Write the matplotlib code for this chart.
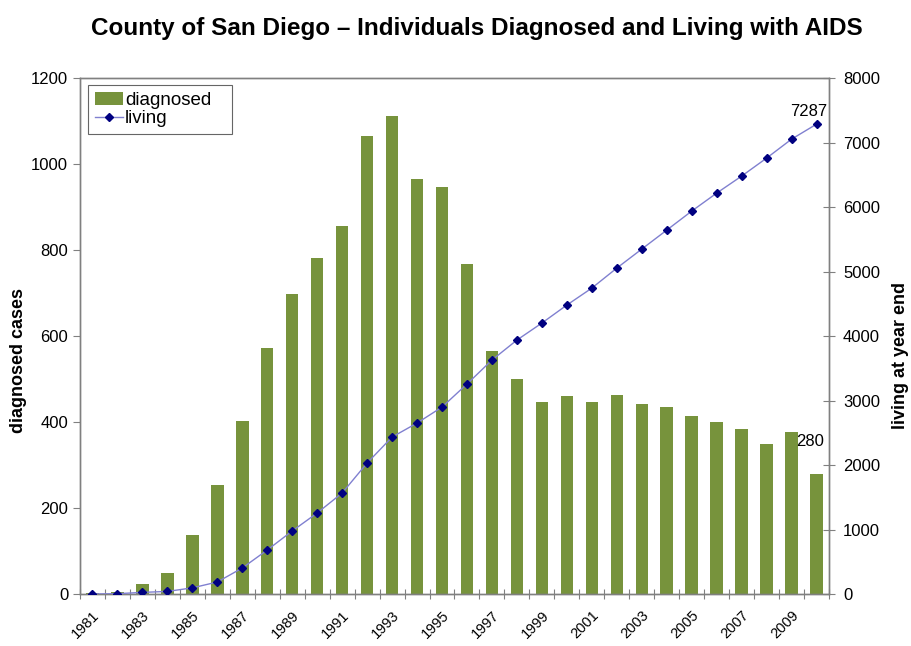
import matplotlib
matplotlib.use("Agg")
import matplotlib.pyplot as plt
import numpy as np

years = list(range(1981, 2011))
diagnosed = [2, 5, 23, 48, 137, 253, 402, 572, 697, 781, 856, 1065, 1111, 965, 946,
             767, 565, 500, 446, 460, 446, 463, 442, 435, 414, 400, 384, 349, 377, 280]
living = [0, 5, 25, 40, 95, 186, 403, 682, 977, 1256, 1566, 2031, 2434, 2651, 2899,
          3256, 3628, 3938, 4202, 4481, 4744, 5054, 5349, 5643, 5938, 6217, 6481, 6760, 7054, 7287]

plt.rcParams['font.family'] = ['Liberation Sans', 'DejaVu Sans']

fig = plt.figure(figsize=(9.12, 6.46), dpi=100)
ax = fig.add_axes([0.0877, 0.0805, 0.8213, 0.7985])
ax2 = ax.twinx()

x = np.arange(len(years))
bars = ax.bar(x, diagnosed, width=0.5, color='#77933C', label='diagnosed', zorder=2)
line, = ax2.plot(x, living, color='#8080D0', lw=1.0, marker='D', markersize=3.8,
                 markerfacecolor='#000080', markeredgecolor='#000080', label='living', zorder=3)

ax.set_xlim(-0.5, len(years) - 0.5)
ax.set_ylim(0, 1200)
ax2.set_ylim(0, 8000)
ax.set_yticks(range(0, 1201, 200))
ax2.set_yticks(range(0, 8001, 1000))

# category boundary ticks
ax.set_xticks(np.arange(-0.5, len(years), 1.0))
ax.set_xticklabels([])
ax.set_xticks(x[::2], minor=True)
ax.set_xticklabels([str(y) for y in years[::2]], minor=True, rotation=45,
                   ha='right', va='top', rotation_mode='anchor', fontsize=10.5)
ax.tick_params(axis='x', which='major', direction='inout', length=7, color='#808080')
ax.tick_params(axis='x', which='minor', length=0, pad=10)
ax.tick_params(axis='y', direction='out', length=5, color='#808080', labelsize=12)
ax2.tick_params(axis='y', direction='inout', length=8, color='#808080', labelsize=12, pad=6)

for a in (ax, ax2):
    for s in a.spines.values():
        s.set_color('#808080')
        s.set_linewidth(1.0)

ax.set_ylabel('diagnosed cases', fontsize=13, fontweight='bold')
ax2.set_ylabel('living at year end', fontsize=13, fontweight='bold')
ax.yaxis.set_label_coords(-0.071, 0.453)
ax2.yaxis.set_label_coords(1.084, 0.463)

fig.suptitle('County of San Diego \u2013 Individuals Diagnosed and Living with AIDS',
             fontsize=17.5, fontweight='bold', x=0.523, y=0.956, va='center')

ax2.annotate(str(living[-1]), (x[-1], living[-1]), xytext=(-6, 4),
             textcoords='offset points', ha='center', va='bottom', fontsize=12)
ax.annotate(str(diagnosed[-1]), (x[-1], diagnosed[-1]), xytext=(-4.5, 23),
            textcoords='offset points', ha='center', va='center', fontsize=12)

ax.set_zorder(0)
ax2.set_zorder(1)
ax2.patch.set_visible(False)
leg = ax2.legend(handles=[bars, line], loc='upper left',
                 bbox_to_anchor=(0.0107, 0.5, 0.192, 0.486), mode='expand',
                 fontsize=13.5, frameon=True, fancybox=False, borderpad=0.35,
                 handlelength=1.5, handletextpad=0.12, labelspacing=0.05, borderaxespad=0)
leg.get_frame().set_edgecolor('#404040')
leg.get_frame().set_linewidth(0.8)

fig.savefig('out.png', dpi=100)
